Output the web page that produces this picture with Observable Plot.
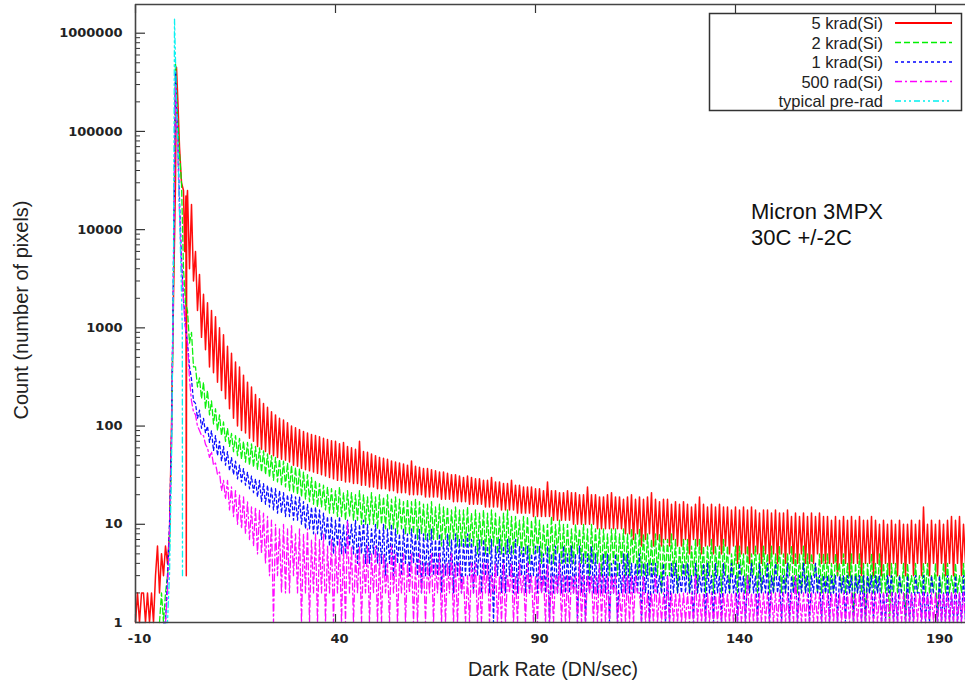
<!DOCTYPE html>
<html><head><meta charset="utf-8">
<script src="https://cdn.jsdelivr.net/npm/d3@7"></script>
<script src="https://cdn.jsdelivr.net/npm/@observablehq/plot@0.6"></script>
<style>body{margin:0;background:#fff;}</style>
</head><body><div id="chart"></div>
<script>
// ---- axis ticks ----
const xTicks = [-10, 40, 90, 140, 190];
const yTicks = [1, 10, 100, 1000, 10000, 100000, 1000000];
const yMinorTicks = [2,3,4,5,6,7,8,9,20,30,40,50,60,70,80,90,200,300,400,500,600,700,800,900,
  2000,3000,4000,5000,6000,7000,8000,9000,20000,30000,40000,50000,60000,70000,80000,90000,
  200000,300000,400000,500000,600000,700000,800000,900000];
const xDomain = [-10, 197.5];
const yDomain = [1, 1960000];

// ---- series names ----
const seriesNames = ["5 krad(Si)", "2 krad(Si)", "1 krad(Si)", "500 rad(Si)", "typical pre-rad"];

// ---- peak region (explicit dark rate / count pairs) ----
const redHeadRate  = [-10,-9.5,-9,-8.5,-8,-7.5,-7,-6.5,-6,-5.5,-5,-4.5,-4,-3.5,-3,-2.5,-2,-1.5,-1,-0.5,0,0.25,0.6,1,1.5,2,2.3,2.6,2.7,2.8];
const redHeadCount = [1,2,1,2,2,1,2,1,2,1,3,6,2,5,3,6,4,8,100,2000,30000,450000,200000,70000,30000,25000,6000,22000,3,18000];
const greenHeadRate  = [-4,-3.5,-3,-2.5,-2,-1.5,-1,-0.5,0,0.5,1,1.5,2,2.5];
const greenHeadCount = [1,2,1,2,3,6,60,3000,500000,150000,60000,30000,4000,1800];
const blueHeadRate  = [-3,-2.5,-2,-1.5,-1,-0.5,0,0.5,1,1.5,2,2.5];
const blueHeadCount = [1,1,3,10,80,5000,400000,100000,20000,5000,2000,1000];
const magentaHeadRate  = [-3,-2.5,-2,-1.5,-1,-0.5,0,0.5,1,1.5,2,2.5];
const magentaHeadCount = [1,1,2,8,60,4000,300000,80000,15000,4000,1800,1000];
const cyanHeadRate  = [-3,-2,-1.5,-1,-0.5,-0.25,0.25,0.75,1.25,1.7,1.75];
const cyanHeadCount = [1,1,3,40,5000,1400000,200000,40000,6000,1000,3];

// ---- tails: counts per 0.5 DN/sec bin, starting at tailStart ----
const tailStart = 3;
const tailBin = 0.5;
const redTail = [
 25000,4000,18000,3000,6000,1500,3500,800,2200,600,
 1800,400,1500,350,1300,280,1000,230,850,190,
 650,150,550,120,450,100,400,90,330,85,
 280,75,250,70,210,62,190,58,170,55,
 155,52,140,50,130,48,120,46,115,45,
 108,43,100,40,96,39,92,37,88,36,
 85,35,82,34,80,33,78,32,75,31,
 73,30,71,29,70,28,66,28,68,27,
 62,27,60,26,58,26,70,25,55,25,
 54,24,52,24,50,23,48,23,47,23,
 46,22,44,22,43,21,42,21,41,21,
 40,20,44,20,39,20,38,20,37,19,
 37,19,36,19,35,19,34,18,34,18,
 33,18,32,17,32,17,31,17,30,17,
 31,16,30,16,29,16,29,16,28,15,
 28,15,30,15,27,15,27,14,26,14,
 26,14,28,14,25,13,25,13,24,13,
 24,13,24,12,23,12,23,12,22,12,
 27,12,22,11,22,11,21,11,21,11,
 22,11,21,10,21,10,20,10,20,10,
 24,10,20,10,20,9,19,9,19,9,
 20,9,21,9,19,9,19,9,18,8,
 19,8,20,7,18,8,19,6,18,7,
 19,8,21,6,18,7,17,6,18,7,
 18,6,16,7,17,6,16,6,17,7,
 16,5,15,7,16,6,19,5,16,6,
 15,6,16,5,15,6,16,5,15,6,
 15,5,14,6,15,4,14,5,15,5,
 14,4,15,5,14,5,13,4,14,5,
 14,4,13,5,14,4,13,5,13,4,
 14,5,12,4,13,4,12,5,13,4,
 12,4,13,4,12,5,13,4,12,4,
 12,4,11,4,12,3,11,4,12,4,
 11,3,12,4,11,4,12,3,11,4,
 11,4,12,3,11,4,10,3,11,4,
 10,3,11,4,10,3,11,4,10,3,
 10,4,11,3,10,4,11,3,15,4,
 10,3,11,4,10,3,11,4,10,3,
 11,4,12,3,11,4,12,3,10,4];
const greenTail = [
 1500,700,900,400,400,250,310,190,280,150,
 230,130,180,105,150,90,130,80,110,70,
 95,62,84,55,80,50,75,46,70,43,
 68,40,66,38,62,36,60,34,56,32,
 52,30,50,28,48,27,46,25,44,24,
 42,22,40,21,38,20,37,19,34,18,
 32,17,30,16,28,15,26,15,25,14,
 24,13,23,13,22,12,24,12,21,11,
 22,12,21,11,20,11,22,10,20,10,
 19,10,21,10,19,9,20,10,19,9,
 20,9,18,9,19,8,18,9,17,8,
 18,8,17,8,18,7,17,8,16,7,
 16,7,17,7,15,7,16,6,15,7,
 15,6,14,7,15,6,14,6,14,6,
 15,6,13,6,14,5,13,6,14,5,
 13,5,14,6,13,5,12,5,13,5,
 14,5,12,5,12,6,11,5,12,5,
 12,4,11,5,12,5,11,4,10,5,
 10,4,12,4,10,5,11,4,10,4,
 10,4,9,4,10,5,9,4,10,4,
 9,3,10,4,9,4,9,3,9,4,
 8,3,9,4,9,3,8,4,9,3,
 8,3,9,4,8,3,9,3,8,3,
 8,3,7,3,8,3,8,2,7,3,
 7,3,8,3,7,2,6,3,7,3,
 7,2,6,3,7,2,7,3,6,2,
 6,3,7,2,6,3,6,2,7,3,
 6,2,5,3,6,2,6,3,5,2,
 6,2,5,3,6,2,5,2,6,3,
 5,2,6,2,5,3,6,2,5,2,
 5,3,6,2,5,2,5,2,6,2,
 5,2,5,3,4,2,5,2,5,2,
 5,2,4,2,5,3,4,2,5,2,
 4,2,5,1,4,2,5,2,4,1,
 4,2,5,2,4,2,5,2,4,2,
 4,1,4,2,4,2,3,2,4,1,
 4,2,3,2,4,2,3,2,4,2,
 4,2,3,2,4,1,3,2,4,2,
 4,2,3,2,4,2,3,2,4,2];
const blueTail = [
 700,400,300,180,170,120,145,95,120,85,
 100,68,90,56,80,50,70,44,62,40,
 55,35,48,32,44,29,40,27,37,25,
 34,23,31,21,29,19,28,17,26,16,
 25,15,24,14,23,13,22,13,21,12,
 20,12,20,11,19,11,19,10,17,9,
 16,9,15,8,15,8,14,7,13,7,
 12,6,12,5,11,6,12,5,10,5,
 11,6,10,5,11,4,10,5,11,4,
 10,4,9,5,10,4,9,4,10,3,
 9,4,10,3,9,4,8,3,9,4,
 8,3,9,4,8,3,9,2,8,3,
 8,3,9,3,7,3,8,2,7,3,
 8,3,7,2,8,3,7,2,7,3,
 8,3,7,2,6,3,7,2,7,3,
 6,2,7,1,6,3,7,2,6,2,
 7,3,6,2,7,2,6,3,6,2,
 6,2,5,3,6,2,6,2,5,2,
 6,1,5,2,6,2,5,2,6,2,
 5,2,6,2,5,1,6,2,5,1,
 5,2,6,2,5,2,4,2,5,2,
 5,1,4,2,5,1,4,2,5,2,
 5,2,4,2,4,2,5,1,4,2,
 4,1,4,2,4,2,3,2,4,1,
 3,1,4,2,4,2,3,2,4,2,
 4,2,3,1,4,2,3,2,4,1,
 4,2,3,1,4,2,3,1,4,2,
 3,2,4,2,3,1,4,2,3,1,
 3,2,4,2,3,1,4,2,3,2,
 4,1,3,2,4,2,3,1,3,2,
 4,1,3,2,3,1,3,2,4,2,
 3,1,3,2,4,2,3,1,3,2,
 3,1,3,2,3,1,3,2,3,1,
 3,2,3,1,3,2,3,1,3,1,
 3,2,3,1,3,2,3,1,2,1,
 3,2,3,1,2,1,3,2,2,1,
 3,1,2,1,3,2,2,1,3,1,
 2,1,3,2,2,1,3,1,2,1,
 3,1,2,1,3,1,2,1,3,1];
const magentaTail = [
 700,300,180,140,130,100,90,80,80,65,
 60,48,55,40,42,32,34,22,28,18,
 28,14,24,12,22,10,20,9,19,8,
 17,7,15,6,15,5,14,5,13,4,
 12,3,11,1,10,3,9,2,10,2,
 9,2,10,3,8,2,9,1,8,2,
 9,1,7,2,8,1,7,2,8,1,
 6,2,7,1,6,2,7,1,6,1,
 11,2,6,1,5,2,6,1,5,2,
 6,1,5,2,6,1,5,1,5,2,
 4,1,6,2,5,1,4,2,5,1,
 4,2,5,1,4,1,5,2,4,1,
 4,2,5,1,4,2,5,1,4,1,
 4,2,5,1,4,1,4,2,3,1,
 3,1,4,2,4,1,3,1,4,2,
 4,1,3,2,4,1,3,1,4,1,
 3,2,4,1,3,1,4,2,3,1,
 4,2,3,1,3,1,4,2,3,1,
 4,1,3,1,3,2,4,1,3,1,
 3,1,3,2,3,1,4,1,3,1,
 3,2,3,1,3,1,4,1,3,1,
 3,1,3,2,3,1,2,1,3,1,
 3,1,3,1,3,2,2,1,3,1,
 2,1,2,1,3,1,2,1,2,1,
 3,1,2,1,2,1,2,1,2,1,
 2,1,2,1,3,1,2,1,2,1,
 2,1,2,1,2,1,2,1,2,1,
 2,1,2,1,2,1,2,1,2,1,
 3,1,2,1,2,1,2,1,2,1,
 2,1,2,1,2,1,2,1,2,1,
 2,1,2,1,3,1,2,1,2,1,
 2,1,2,1,2,1,2,1,2,1,
 2,1,2,1,2,1,2,1,2,1,
 2,1,2,1,2,1,2,1,2,1,
 2,1,2,1,2,1,2,1,2,1,
 2,1,2,1,2,1,2,1,2,1,
 2,1,2,1,2,1,2,1,2,1,
 2,1,2,1,2,1,2,1,2,1,
 2,1,2,1,2,1,2,1,2,1];
const cyanTail = [];

// ---- styles ----
const seriesColors = ["#ff0000", "#00f000", "#0000ff", "#ff00ff", "#00f0f0"];
const seriesDash = [null, "6,3", "3,3", "7,3,2,3", "6,3,2,3,2,3"];

const heads = [[redHeadRate, redHeadCount],[greenHeadRate, greenHeadCount],[blueHeadRate, blueHeadCount],[magentaHeadRate, magentaHeadCount],[cyanHeadRate, cyanHeadCount]];
const tails = [redTail, greenTail, blueTail, magentaTail, cyanTail];

function rowsFor(i) {
  const rows = [];
  heads[i][0].forEach((r, j) => rows.push({rate: r, count: heads[i][1][j]}));
  tails[i].forEach((c, j) => rows.push({rate: tailStart + j * tailBin, count: c}));
  return rows;
}

const plot = Plot.plot({
  width: 965, height: 685,
  marginLeft: 135, marginRight: 0, marginTop: 4, marginBottom: 63,
  style: {fontFamily: "DejaVu Sans", background: "white", overflow: "visible"},
  x: {domain: xDomain, axis: null},
  y: {type: "log", domain: yDomain, axis: null},
  marks: [
    ...seriesNames.map((n, i) => Plot.line(rowsFor(i), {
      x: "rate", y: "count", stroke: seriesColors[i], strokeWidth: i === 0 ? 1.5 : 1.3,
      strokeDasharray: seriesDash[i], strokeOpacity: 0.95
    })),
    Plot.axisY(yTicks, {anchor: "left", label: null, tickSize: -10, tickFormat: () => "", stroke: "#333", strokeWidth: 1.2}),
    Plot.axisY(yMinorTicks, {anchor: "left", label: null, tickSize: -5, tickFormat: () => "", stroke: "#333", strokeWidth: 1}),
    Plot.axisY(yTicks, {anchor: "left", label: null, tickSize: 0, tickPadding: 13, tickFormat: d => String(d), fontSize: 13, fontWeight: "bold", fill: "#222"}),
    Plot.axisX(xTicks, {anchor: "bottom", label: null, tickSize: -8, tickFormat: () => "", stroke: "#333", strokeWidth: 1.2}),
    Plot.axisX(xTicks, {anchor: "top", label: null, tickSize: -8, tickFormat: () => "", stroke: "#333", strokeWidth: 1.2}),
    Plot.axisX(xTicks, {anchor: "bottom", label: null, tickSize: 0, tickPadding: 11, dx: 4, tickFormat: d => String(d), fontSize: 13, fontWeight: "bold", fill: "#222"}),
    Plot.ruleX([xDomain[0]], {stroke: "#444", strokeWidth: 1.6}),
    Plot.ruleY([yDomain[0], yDomain[1]], {stroke: "#444", strokeWidth: 1.6})
  ]
});
document.getElementById("chart").appendChild(plot);

const svg = d3.select(plot);
const sans = "Liberation Sans, Arial, sans-serif";

// axis titles
svg.append("text").attr("transform", "translate(21,310) rotate(-90)")
  .attr("text-anchor", "middle").attr("dominant-baseline", "central")
  .style("font-family", sans).style("font-size", "20px").style("fill", "#222")
  .text("Count (number of pixels)");
svg.append("text").attr("x", 553).attr("y", 669)
  .attr("text-anchor", "middle").attr("dominant-baseline", "central")
  .style("font-family", sans).style("font-size", "19.5px").style("fill", "#222")
  .text("Dark Rate (DN/sec)");

// annotation
const ann = svg.append("text").attr("text-anchor", "start").style("font-family", sans).style("font-size", "22px").style("fill", "#111");
ann.append("tspan").attr("x", 751).attr("y", 219).text("Micron 3MPX");
ann.append("tspan").attr("x", 751).attr("y", 245).text("30C +/-2C");

// legend
const lg = svg.append("g");
lg.append("rect").attr("x", 709.5).attr("y", 13.5).attr("width", 252).attr("height", 97)
  .attr("fill", "white").attr("stroke", "#333").attr("stroke-width", 1.5);
seriesNames.forEach((n, i) => {
  const yy = 23 + i * 19.5;
  lg.append("text").attr("x", 883).attr("y", yy).attr("text-anchor", "end").attr("dominant-baseline", "central")
    .style("font-family", sans).style("font-size", "16.5px").style("fill", "#222").text(n);
  lg.append("line").attr("x1", 895).attr("x2", 952).attr("y1", yy).attr("y2", yy)
    .attr("stroke", seriesColors[i]).attr("stroke-width", i === 0 ? 2 : 1.5)
    .attr("stroke-dasharray", seriesDash[i]);
});
</script>
</body></html>
